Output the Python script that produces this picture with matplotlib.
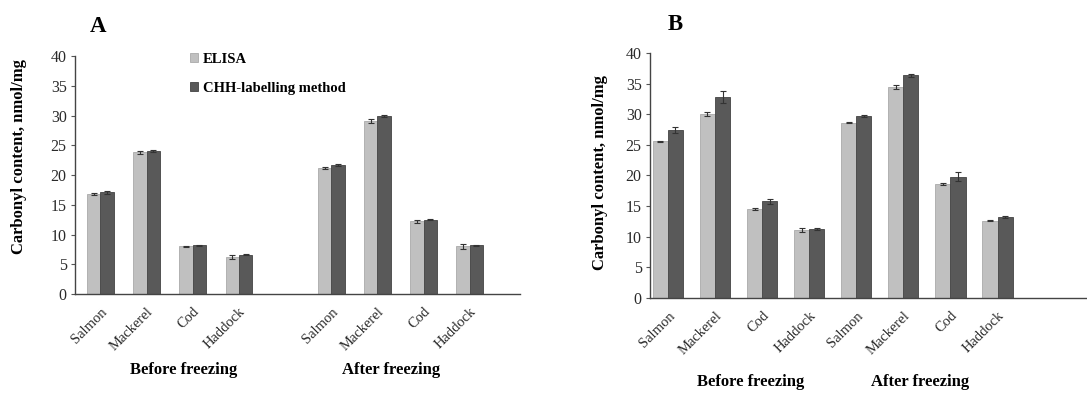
import numpy as np
import matplotlib
matplotlib.use('Agg')
import matplotlib.pyplot as plt
import matplotlib.transforms as mtransforms

plt.rcParams['font.family'] = ['Liberation Serif', 'DejaVu Serif']

# data
fish = ['Salmon', 'Mackerel', 'Cod', 'Haddock']
groups = ['Before freezing', 'After freezing']
series = ['ELISA', 'CHH-labelling method']

a_elisa = [16.8, 23.8, 8.0, 6.2, 21.2, 29.1, 12.2, 8.0]
a_elisa_err = [0.2, 0.3, 0.15, 0.4, 0.2, 0.3, 0.2, 0.4]
a_chh = [17.1, 24.1, 8.2, 6.6, 21.7, 29.9, 12.5, 8.2]
a_chh_err = [0.2, 0.15, 0.1, 0.1, 0.15, 0.15, 0.1, 0.1]

b_elisa = [25.6, 30.0, 14.5, 11.1, 28.6, 34.4, 18.6, 12.6]
b_elisa_err = [0.1, 0.3, 0.2, 0.3, 0.1, 0.3, 0.1, 0.1]
b_chh = [27.4, 32.8, 15.8, 11.3, 29.7, 36.4, 19.8, 13.2]
b_chh_err = [0.5, 1.0, 0.4, 0.15, 0.15, 0.25, 0.7, 0.1]

light = '#c0c0c0'
dark = '#595959'

fig = plt.figure(figsize=(10.87, 3.93), dpi=100)
axA = fig.add_axes([0.069, 0.252, 0.409, 0.605])
axB = fig.add_axes([0.598, 0.242, 0.402, 0.623])


def draw(ax, xs, e1, s1, e2, s2, w, xlim):
    ax.bar(xs - w / 2, e1, w, color=light, edgecolor='#aaaaaa', lw=0.6,
           yerr=s1, error_kw=dict(ecolor='#333333', elinewidth=0.8, capsize=2.5, capthick=0.8),
           label=series[0])
    ax.bar(xs + w / 2, e2, w, color=dark, edgecolor='#444444', lw=0.6,
           yerr=s2, error_kw=dict(ecolor='#333333', elinewidth=0.8, capsize=2.5, capthick=0.8),
           label=series[1])
    ax.set_xlim(*xlim)
    ax.set_ylim(0, 40)
    ax.set_yticks(np.arange(0, 41, 5))
    ax.set_xticks(xs)
    ax.set_xticklabels(fish * 2, rotation=45, ha='right', rotation_mode='anchor',
                       fontsize=10.5, color='#2a2a2a')
    ax.tick_params(axis='x', length=0, pad=8)
    ax.tick_params(axis='y', length=3, width=0.8, labelsize=11.5, labelcolor='#2a2a2a',
                   color='#555555', pad=3)
    for s in ['top', 'right']:
        ax.spines[s].set_visible(False)
    for s in ['left', 'bottom']:
        ax.spines[s].set_color('#444444')
        ax.spines[s].set_linewidth(1.0)


xa = np.array([0, 1, 2, 3, 5, 6, 7, 8], dtype=float)
draw(axA, xa, a_elisa, a_elisa_err, a_chh, a_chh_err, 0.29, (-0.55, 9.08))
xb = np.arange(8, dtype=float)
draw(axB, xb, b_elisa, b_elisa_err, b_chh, b_chh_err, 0.32, (-0.38, 8.9))

# group labels
trA = mtransforms.blended_transform_factory(axA.transData, axA.transAxes)
axA.text(1.8, -0.32, groups[0], transform=trA, ha='center', va='center',
         fontsize=12, fontweight='bold')
axA.text(6.3, -0.32, groups[1], transform=trA, ha='center', va='center',
         fontsize=12, fontweight='bold')
trB = mtransforms.blended_transform_factory(axB.transData, axB.transAxes)
axB.text(1.75, -0.345, groups[0], transform=trB, ha='center', va='center',
         fontsize=12, fontweight='bold')
axB.text(5.35, -0.345, groups[1], transform=trB, ha='center', va='center',
         fontsize=12, fontweight='bold')

# legend
axA.legend(loc='upper left', bbox_to_anchor=(0.23, 1.07), frameon=False,
           handlelength=0.55, handleheight=0.55, handletextpad=0.3,
           labelspacing=1.1, prop=dict(weight='bold', size=10.5))

# y labels and panel letters
fig.text(19 / 1087, 1 - 157 / 393, 'Carbonyl content, nmol/mg', rotation=90,
         ha='center', va='center', fontsize=12, fontweight='bold')
fig.text(600 / 1087, 1 - 173 / 393, 'Carbonyl content, nmol/mg', rotation=90,
         ha='center', va='center', fontsize=12, fontweight='bold')
fig.text(98 / 1087, 1 - 26 / 393, 'A', ha='center', va='center', fontsize=16.5,
         fontweight='bold')
fig.text(675 / 1087, 1 - 25 / 393, 'B', ha='center', va='center', fontsize=16.5,
         fontweight='bold')

fig.savefig('out.png', dpi=100)
